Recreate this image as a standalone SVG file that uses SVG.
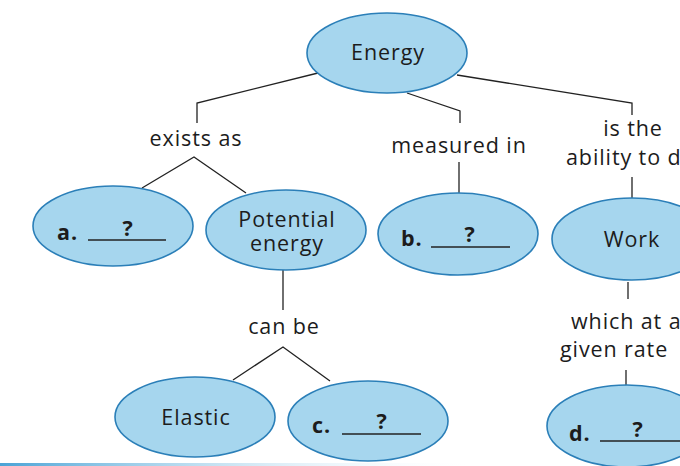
<svg xmlns="http://www.w3.org/2000/svg" width="680" height="466" viewBox="0 0 680 466">
<defs>
<style>
.node ellipse{fill:#a6d6ee;stroke:#2b7fb8;stroke-width:1.6}
.t{font-family:"Open Sans","Noto Sans",sans-serif;font-size:21.5px;fill:#1c1c1c;letter-spacing:0.9px}
.b{font-weight:bold}
.blank{stroke:#222;stroke-width:1.4}
.conn path{fill:none;stroke:#222;stroke-width:1.3}
</style>
<linearGradient id="bar" x1="0" y1="0" x2="1" y2="0">
<stop offset="0" stop-color="#4aa3d6"/>
<stop offset="0.5" stop-color="#9fcfea" stop-opacity="0.5"/>
<stop offset="1" stop-color="#ffffff" stop-opacity="0"/>
</linearGradient>
</defs>
<rect width="680" height="466" fill="#ffffff"/>
<rect x="0" y="463" width="480" height="3" fill="url(#bar)"/>
<g class="conn" id="connectors">
<path d="M318,73 L197,103 L197,123"/>
<path d="M142,188 L194,157 L246,193"/>
<path d="M407,93 L460,111 L460,123"/>
<path d="M459,162 L459,193"/>
<path d="M457,75 L632,103 L632,115"/>
<path d="M632,177 L632,198"/>
<path d="M283,270 L283,310"/>
<path d="M233,380 L283,347 L330,381"/>
<path d="M628,282 L628,299"/>
<path d="M626,370 L626,386"/>
</g>
<g id="labels">
<text class="t" x="196" y="146" text-anchor="middle">exists as</text>
<text class="t" x="459" y="153" text-anchor="middle">measured in</text>
<text class="t" text-anchor="middle"><tspan x="633" y="136">is the</tspan></text>
<text class="t" x="566" y="165">ability to d</text>
<text class="t" x="284" y="334" text-anchor="middle">can be</text>
<text class="t" x="571" y="329">which at a</text>
<text class="t" x="560" y="357">given rate</text>
</g>
<g class="node" id="energy">
<ellipse cx="387" cy="53" rx="80" ry="40"/>
<text class="t" x="388" y="60" text-anchor="middle">Energy</text>
</g>
<g class="node" id="node-a">
<ellipse cx="113" cy="226" rx="80" ry="40"/>
<text class="t b" x="57" y="240">a.</text>
<line class="blank" x1="88" y1="240" x2="166" y2="240"/>
<text class="t b" x="128" y="236" text-anchor="middle">?</text>
</g>
<g class="node" id="potential">
<ellipse cx="286" cy="230" rx="80" ry="40"/>
<text class="t" text-anchor="middle"><tspan x="287" y="227">Potential</tspan><tspan x="287" y="251">energy</tspan></text>
</g>
<g class="node" id="node-b">
<ellipse cx="458" cy="234" rx="80" ry="41"/>
<text class="t b" x="401" y="246">b.</text>
<line class="blank" x1="431" y1="247" x2="510" y2="247"/>
<text class="t b" x="470" y="242" text-anchor="middle">?</text>
</g>
<g class="node" id="work">
<ellipse cx="632" cy="239" rx="80" ry="41"/>
<text class="t" x="632" y="247" text-anchor="middle">Work</text>
</g>
<g class="node" id="elastic">
<ellipse cx="195" cy="417" rx="80" ry="40"/>
<text class="t" x="196" y="425" text-anchor="middle">Elastic</text>
</g>
<g class="node" id="node-c">
<ellipse cx="368" cy="421" rx="80" ry="40"/>
<text class="t b" x="312" y="433">c.</text>
<line class="blank" x1="342" y1="434" x2="421" y2="434"/>
<text class="t b" x="382" y="429" text-anchor="middle">?</text>
</g>
<g class="node" id="node-d">
<ellipse cx="627" cy="426" rx="80" ry="41"/>
<text class="t b" x="569" y="441">d.</text>
<line class="blank" x1="600" y1="441" x2="680" y2="441"/>
<text class="t b" x="638" y="437" text-anchor="middle">?</text>
</g>
</svg>
